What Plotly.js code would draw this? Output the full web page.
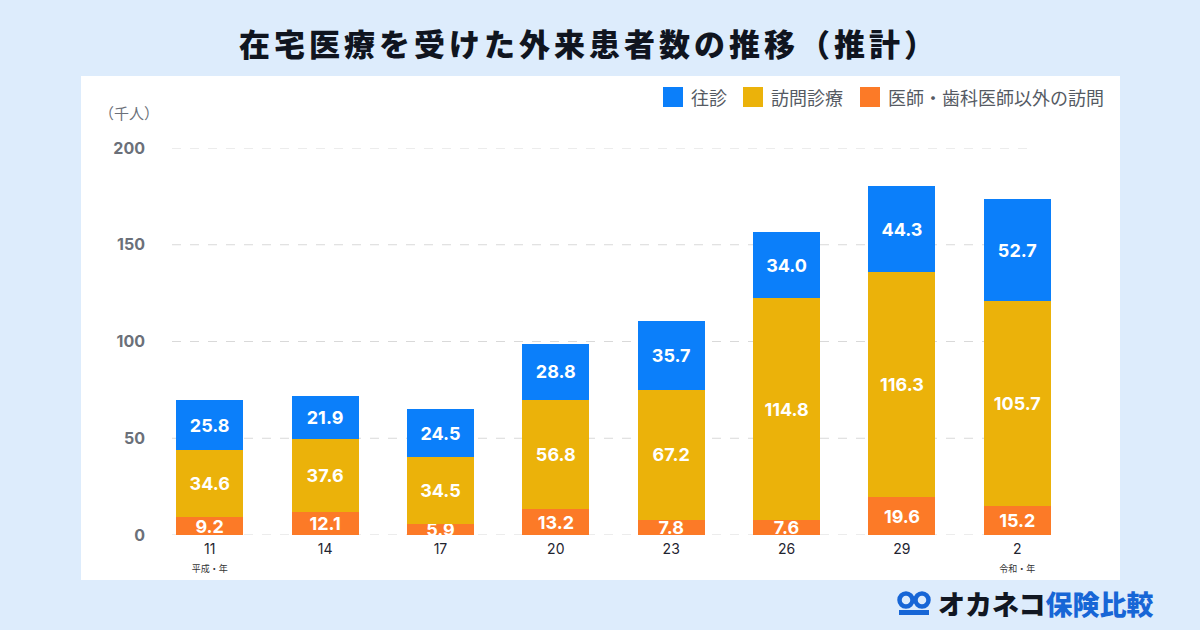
<!DOCTYPE html>
<html>
<head>
<meta charset="utf-8">
<script src="https://cdn.plot.ly/plotly-3.0.1.min.js"></script>
<style>
  html, body { margin: 0; padding: 0; background: #ddecfc; }
  #chart { width: 1200px; height: 630px; }
  .gtitle { letter-spacing: 4px; }
</style>
</head>
<body>
<div id="chart"></div>
<script>
// ---- data ----
const years = ['11', '14', '17', '20', '23', '26', '29', '2'];
const eraNotes = ['平成・年', '', '', '', '', '', '', '令和・年'];
const otherVisits = [9.2, 12.1, 5.9, 13.2, 7.8, 7.6, 19.6, 15.2];      // 医師・歯科医師以外の訪問
const homeVisits = [34.6, 37.6, 34.5, 56.8, 67.2, 114.8, 116.3, 105.7]; // 訪問診療
const houseCalls = [25.8, 21.9, 24.5, 28.8, 35.7, 34.0, 44.3, 52.7];    // 往診
const seriesNames = ['医師・歯科医師以外の訪問', '訪問診療', '往診'];
const yTicks = [0, 50, 100, 150, 200];

// ---- layout helpers (pixel -> paper) ----
const W = 1200, H = 630;
const M = { l: 152, r: 125, t: 148, b: 95 };
const PW = W - M.l - M.r, PH = H - M.t - M.b;
const px = x => (x - M.l) / PW;
const py = y => (H - M.b - y) / PH;

const FONT = "Inter, 'Noto Sans CJK JP', sans-serif";
const JP = "'Noto Sans CJK JP', sans-serif";
const colors = ['#fc7a27', '#ebb20a', '#0b7ffa'];

const ticktext = years.map((y, i) => eraNotes[i]
  ? y + '<br><span style="font-size:9px;color:#333">' + eraNotes[i] + '</span>'
  : y);

const seriesValues = [otherVisits, homeVisits, houseCalls];
const traces = seriesValues.map((vals, i) => ({
  type: 'bar',
  name: seriesNames[i],
  x: years,
  y: vals,
  marker: { color: colors[i], line: { width: 0 } },
  texttemplate: '%{y:.1f}',
  textposition: 'inside',
  insidetextanchor: 'middle',
  textangle: 0,
  constraintext: 'none',
  cliponaxis: false,
  textfont: { family: FONT, size: 18, color: '#ffffff', weight: 'bold' },
  hoverinfo: 'skip',
  showlegend: false
}));

const shapes = [];
const annotations = [];
// white panel
shapes.push({
  type: 'rect', xref: 'paper', yref: 'paper', layer: 'below',
  x0: px(81), x1: px(1120), y0: py(580), y1: py(76),
  fillcolor: '#ffffff', line: { width: 0 }
});
// dashed gridlines
yTicks.forEach(v => shapes.push({
  type: 'line', xref: 'paper', yref: 'y', layer: 'below',
  x0: px(172), x1: px(1028), y0: v, y1: v,
  line: { color: '#d9d9d9', width: 1.2, dash: 'dash' }
}));

// legend (top-right): order 往診, 訪問診療, 医師・歯科医師以外の訪問
const legendSlots = [663, 743, 860];
[2, 1, 0].forEach((si, k) => {
  const x0 = legendSlots[k];
  shapes.push({
    type: 'rect', xref: 'paper', yref: 'paper', layer: 'above',
    x0: px(x0), x1: px(x0 + 20), y0: py(107), y1: py(87),
    fillcolor: colors[si], line: { width: 0 }
  });
  annotations.push({
    text: seriesNames[si], xref: 'paper', yref: 'paper',
    x: px(x0 + 26), y: py(97), xanchor: 'left', yanchor: 'middle',
    showarrow: false, font: { family: JP, size: 18, color: '#555a63' }
  });
});

// logo icon (two rings)
[[906, 600], [922, 600]].forEach(([cx, cy]) => shapes.push({
  type: 'circle', xref: 'paper', yref: 'paper', layer: 'above',
  x0: px(cx - 6.5), x1: px(cx + 6.5), y0: py(cy + 6.5), y1: py(cy - 6.5),
  fillcolor: 'rgba(0,0,0,0)', line: { color: '#1766d6', width: 4.5 }
}));
shapes.push({
  type: 'rect', xref: 'paper', yref: 'paper', layer: 'above',
  x0: px(899), x1: px(929), y0: py(615), y1: py(610),
  fillcolor: '#1766d6', line: { width: 0 }
});

annotations.push({
  text: '（千人）', xref: 'paper', yref: 'paper',
  x: px(129), y: py(113), xanchor: 'center', yanchor: 'middle',
  showarrow: false, font: { family: JP, size: 15, color: '#6b7079' }
});
annotations.push({
  text: 'オカネコ<span style="color:#1766d6">保険比較</span>',
  xref: 'paper', yref: 'paper',
  x: px(936), y: py(603), xanchor: 'left', yanchor: 'middle',
  showarrow: false,
  font: { family: JP, size: 27, color: '#111722', weight: 900 }
});

const layout = {
  width: W, height: H,
  margin: M,
  paper_bgcolor: '#ddecfc',
  plot_bgcolor: 'rgba(0,0,0,0)',
  font: { family: FONT },
  title: {
    text: '在宅医療を受けた外来患者数の推移（推計）',
    font: { family: JP, size: 31, color: '#10151f', weight: 900 },
    x: 589 / W, xanchor: 'center', xref: 'container',
    y: 1 - 45 / H, yanchor: 'middle', yref: 'container'
  },
  barmode: 'stack',
  bargap: 0.42,
  uniformtext: { minsize: 18, mode: 'show' },
  showlegend: false,
  xaxis: {
    type: 'category',
    tickmode: 'array', tickvals: years, ticktext: ticktext,
    tickfont: { family: FONT, size: 14, color: '#1f2430' },
    showgrid: false, zeroline: false, showline: false, ticks: '',
    ticklabelstandoff: 4,
    fixedrange: true
  },
  yaxis: {
    range: [0, 200],
    tickmode: 'array', tickvals: yTicks,
    tickfont: { family: FONT, size: 16, color: '#6b7079', weight: 'bold' },
    showgrid: false, zeroline: false, showline: false, ticks: '',
    ticklabelstandoff: 6,
    fixedrange: true
  },
  shapes: shapes,
  annotations: annotations,
  hovermode: false
};

Plotly.newPlot('chart', traces, layout, { displayModeBar: false, staticPlot: true });
</script>
</body>
</html>
